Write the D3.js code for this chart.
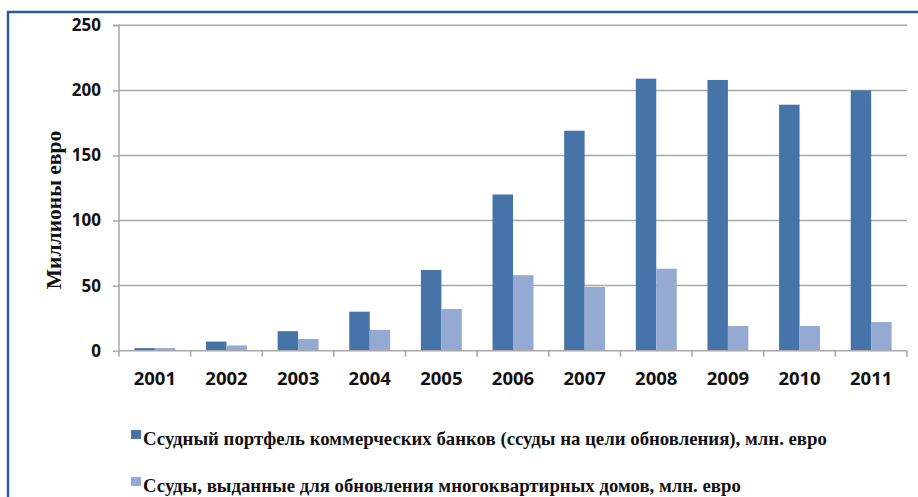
<!DOCTYPE html>
<html><head><meta charset="utf-8">
<script src="https://cdn.jsdelivr.net/npm/d3@7"></script>
<style>body{margin:0;background:#fff}svg{display:block}</style>
</head><body>
<svg id="c" width="918" height="497"></svg>
<script>
const years = ["2001","2002","2003","2004","2005","2006","2007","2008","2009","2010","2011"];
const portfolio = [2, 7, 15, 30, 62, 120, 169, 209, 208, 189, 200];
const apartments = [2, 4, 9, 16, 32, 58, 49, 63, 19, 19, 22];
const yTicks = [0, 50, 100, 150, 200, 250];
const seriesNames = ["Ссудный портфель коммерческих банков (ссуды на цели обновления), млн. евро",
                     "Ссуды, выданные для обновления многоквартирных домов, млн. евро"];
const colors = ["#4674A8", "#95AAD2"];
const yTitle = "Миллионы евро";

const svg = d3.select("#c");
// frame
svg.append("path").attr("d","M8,497 V12 H918").attr("fill","none").attr("stroke","#2F5B9A").attr("stroke-width",2.5);

const L = 119, R = 907, T = 25.3, B = 350.7;
const x = d3.scaleBand().domain(years).range([L, R]).paddingInner(0).paddingOuter(0);
const y = d3.scaleLinear().domain([0, 250]).range([B, T]);
const bw = x.bandwidth();
const barW = bw / 3.5;
const x1 = d3.scaleBand().domain([0,1]).range([0, 2*barW]);

// gridlines
svg.append("g").selectAll("line").data(yTicks.filter(d=>d>0)).join("line")
  .attr("x1", L).attr("x2", R).attr("y1", d=>y(d)).attr("y2", d=>y(d))
  .attr("stroke","#A8A8A8").attr("stroke-width",1.5);

// bars
const series = [portfolio, apartments];
series.forEach((vals, si) => {
  svg.append("g").selectAll("rect").data(vals).join("rect")
    .attr("x", (d,i) => x(years[i]) + (bw - 2*barW)/2 + x1(si))
    .attr("width", barW)
    .attr("y", d => y(d))
    .attr("height", d => y(0) - y(d))
    .attr("fill", colors[si]);
});

// y axis
const yAxis = d3.axisLeft(y).tickValues(yTicks).tickSize(6).tickPadding(12);
const gy = svg.append("g").attr("transform",`translate(${L},0)`).call(yAxis);
gy.select(".domain").attr("stroke","#A8A8A8").attr("stroke-width",1.5).attr("d",`M-6,${T}H0V${B}`);
gy.selectAll(".tick line").attr("stroke","#A8A8A8").attr("stroke-width",1.5);
gy.selectAll("text").attr("font-family","'Open Sans', sans-serif").attr("font-weight","bold")
  .attr("font-size",17).attr("fill","#111");

// x axis
const xAxis = d3.axisBottom(x).tickSize(0).tickPadding(21);
const gx = svg.append("g").attr("transform",`translate(0,${B})`).call(xAxis);
gx.select(".domain").attr("stroke","#A8A8A8").attr("stroke-width",1.5).attr("d",`M${L},0H${R}`);
gx.selectAll("text").attr("font-family","'Open Sans', sans-serif").attr("font-weight","bold")
  .attr("font-size",18.5).attr("fill","#111");
// category boundary ticks
svg.append("g").selectAll("line").data(years.concat(["end"])).join("line")
  .attr("x1",(d,i)=> i<years.length ? x(d) : R).attr("x2",(d,i)=> i<years.length ? x(d) : R)
  .attr("y1",B).attr("y2",B+6).attr("stroke","#A8A8A8").attr("stroke-width",1.5);

// y title
svg.append("text").attr("transform","translate(61,210) rotate(-90)").attr("text-anchor","middle")
  .attr("font-family","'Liberation Serif', 'Times New Roman', serif").attr("font-weight","bold")
  .attr("font-size",21.5).attr("fill","#111").text(yTitle);

// legend
const lg = svg.append("g");
const ly = [430, 477];
seriesNames.forEach((n,i)=>{
  lg.append("rect").attr("x",131).attr("y",ly[i]).attr("width",10).attr("height",9).attr("fill",colors[i]);
  lg.append("text").attr("x",143).attr("y",ly[i]+15).attr("font-family","'Liberation Serif', 'Times New Roman', serif")
    .attr("font-weight","bold").attr("font-size",18.8).attr("fill","#111").text(n);
});
</script>
</body></html>
